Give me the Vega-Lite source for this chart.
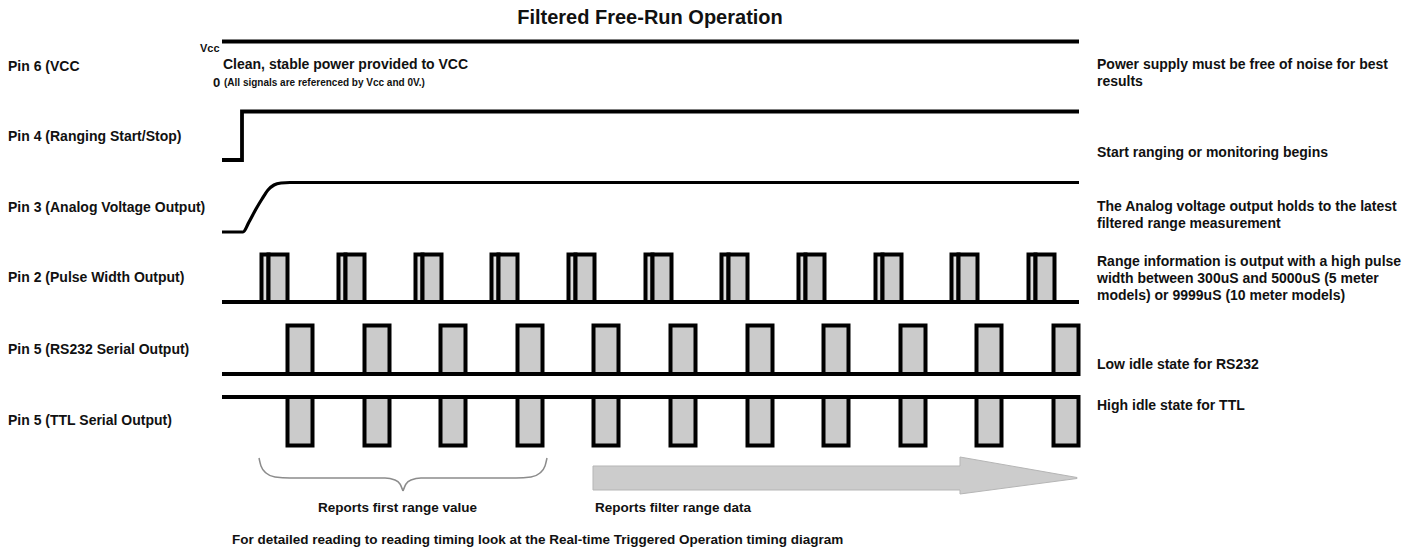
{
  "$schema": "https://vega.github.io/schema/vega-lite/v6.json",
  "width": 1419,
  "height": 550,
  "padding": 0,
  "autosize": {"type": "none"},
  "background": "white",
  "config": {"view": {"stroke": null}, "text": {"font": "Liberation Sans"}},
  "datasets": {
    "waves": [
      {"sig": "vcc", "t": 222, "v": 41.5}, {"sig": "vcc", "t": 1079, "v": 41.5},
      {"sig": "pin4", "t": 222, "v": 160}, {"sig": "pin4", "t": 242, "v": 160}, {"sig": "pin4", "t": 242, "v": 111.5}, {"sig": "pin4", "t": 1079, "v": 111.5},
      {"sig": "pin2", "t": 222, "v": 302}, {"sig": "pin2", "t": 1079, "v": 302},
      {"sig": "rs232", "t": 222, "v": 374}, {"sig": "rs232", "t": 1080, "v": 374},
      {"sig": "ttl", "t": 222, "v": 397}, {"sig": "ttl", "t": 1080, "v": 397}
    ],
    "analog": [
      {"t": 222, "v": 232}, {"t": 243, "v": 232}, {"t": 249, "v": 222}, {"t": 256, "v": 209}, {"t": 262, "v": 199},
      {"t": 268, "v": 190}, {"t": 274, "v": 185}, {"t": 281, "v": 183}, {"t": 290, "v": 182.5}, {"t": 1079, "v": 182.5}
    ],
    "pulses": [
      {"sig": "pin2", "part": "thin", "t0": 261.5, "t1": 268.5, "v0": 302, "v1": 254.5},
      {"sig": "pin2", "part": "wide", "t0": 268.5, "t1": 287.5, "v0": 302, "v1": 254.5},
      {"sig": "pin2", "part": "thin", "t0": 338.5, "t1": 345.5, "v0": 302, "v1": 254.5},
      {"sig": "pin2", "part": "wide", "t0": 345.5, "t1": 364.5, "v0": 302, "v1": 254.5},
      {"sig": "pin2", "part": "thin", "t0": 415.5, "t1": 422.5, "v0": 302, "v1": 254.5},
      {"sig": "pin2", "part": "wide", "t0": 422.5, "t1": 441.5, "v0": 302, "v1": 254.5},
      {"sig": "pin2", "part": "thin", "t0": 491.5, "t1": 498.5, "v0": 302, "v1": 254.5},
      {"sig": "pin2", "part": "wide", "t0": 498.5, "t1": 517.5, "v0": 302, "v1": 254.5},
      {"sig": "pin2", "part": "thin", "t0": 568.5, "t1": 575.5, "v0": 302, "v1": 254.5},
      {"sig": "pin2", "part": "wide", "t0": 575.5, "t1": 594.5, "v0": 302, "v1": 254.5},
      {"sig": "pin2", "part": "thin", "t0": 645.5, "t1": 652.5, "v0": 302, "v1": 254.5},
      {"sig": "pin2", "part": "wide", "t0": 652.5, "t1": 671.5, "v0": 302, "v1": 254.5},
      {"sig": "pin2", "part": "thin", "t0": 721.5, "t1": 728.5, "v0": 302, "v1": 254.5},
      {"sig": "pin2", "part": "wide", "t0": 728.5, "t1": 747.5, "v0": 302, "v1": 254.5},
      {"sig": "pin2", "part": "thin", "t0": 798.5, "t1": 805.5, "v0": 302, "v1": 254.5},
      {"sig": "pin2", "part": "wide", "t0": 805.5, "t1": 824.5, "v0": 302, "v1": 254.5},
      {"sig": "pin2", "part": "thin", "t0": 875.5, "t1": 882.5, "v0": 302, "v1": 254.5},
      {"sig": "pin2", "part": "wide", "t0": 882.5, "t1": 901.5, "v0": 302, "v1": 254.5},
      {"sig": "pin2", "part": "thin", "t0": 951.5, "t1": 958.5, "v0": 302, "v1": 254.5},
      {"sig": "pin2", "part": "wide", "t0": 958.5, "t1": 977.5, "v0": 302, "v1": 254.5},
      {"sig": "pin2", "part": "thin", "t0": 1028.5, "t1": 1035.5, "v0": 302, "v1": 254.5},
      {"sig": "pin2", "part": "wide", "t0": 1035.5, "t1": 1054.5, "v0": 302, "v1": 254.5},
      {"sig": "rs232", "part": "wide", "t0": 287.5, "t1": 312.5, "v0": 374, "v1": 325.5},
      {"sig": "rs232", "part": "wide", "t0": 364.5, "t1": 389.5, "v0": 374, "v1": 325.5},
      {"sig": "rs232", "part": "wide", "t0": 440.5, "t1": 465.5, "v0": 374, "v1": 325.5},
      {"sig": "rs232", "part": "wide", "t0": 517.5, "t1": 542.5, "v0": 374, "v1": 325.5},
      {"sig": "rs232", "part": "wide", "t0": 593.5, "t1": 618.5, "v0": 374, "v1": 325.5},
      {"sig": "rs232", "part": "wide", "t0": 670.5, "t1": 695.5, "v0": 374, "v1": 325.5},
      {"sig": "rs232", "part": "wide", "t0": 747.5, "t1": 772.5, "v0": 374, "v1": 325.5},
      {"sig": "rs232", "part": "wide", "t0": 823.5, "t1": 848.5, "v0": 374, "v1": 325.5},
      {"sig": "rs232", "part": "wide", "t0": 900.5, "t1": 925.5, "v0": 374, "v1": 325.5},
      {"sig": "rs232", "part": "wide", "t0": 976.5, "t1": 1001.5, "v0": 374, "v1": 325.5},
      {"sig": "rs232", "part": "wide", "t0": 1053.5, "t1": 1078.5, "v0": 374, "v1": 325.5},
      {"sig": "ttl", "part": "wide", "t0": 287.5, "t1": 312.5, "v0": 397, "v1": 445.5},
      {"sig": "ttl", "part": "wide", "t0": 364.5, "t1": 389.5, "v0": 397, "v1": 445.5},
      {"sig": "ttl", "part": "wide", "t0": 440.5, "t1": 465.5, "v0": 397, "v1": 445.5},
      {"sig": "ttl", "part": "wide", "t0": 517.5, "t1": 542.5, "v0": 397, "v1": 445.5},
      {"sig": "ttl", "part": "wide", "t0": 593.5, "t1": 618.5, "v0": 397, "v1": 445.5},
      {"sig": "ttl", "part": "wide", "t0": 670.5, "t1": 695.5, "v0": 397, "v1": 445.5},
      {"sig": "ttl", "part": "wide", "t0": 747.5, "t1": 772.5, "v0": 397, "v1": 445.5},
      {"sig": "ttl", "part": "wide", "t0": 823.5, "t1": 848.5, "v0": 397, "v1": 445.5},
      {"sig": "ttl", "part": "wide", "t0": 900.5, "t1": 925.5, "v0": 397, "v1": 445.5},
      {"sig": "ttl", "part": "wide", "t0": 976.5, "t1": 1001.5, "v0": 397, "v1": 445.5},
      {"sig": "ttl", "part": "wide", "t0": 1053.5, "t1": 1078.5, "v0": 397, "v1": 445.5}
    ],
    "arrow": [
      {"t": 593, "lo": 466, "hi": 490},
      {"t": 960, "lo": 466, "hi": 490},
      {"t": 960, "lo": 457, "hi": 494},
      {"t": 1077, "lo": 477.5, "hi": 478.5}
    ],
    "brace": [
      {"half": "L", "t": 259, "v": 458}, {"half": "L", "t": 261, "v": 466}, {"half": "L", "t": 266, "v": 473}, {"half": "L", "t": 275, "v": 477},
      {"half": "L", "t": 290, "v": 478}, {"half": "L", "t": 385, "v": 478}, {"half": "L", "t": 395, "v": 480}, {"half": "L", "t": 400, "v": 484}, {"half": "L", "t": 403, "v": 491},
      {"half": "R", "t": 403, "v": 491}, {"half": "R", "t": 406, "v": 484}, {"half": "R", "t": 411, "v": 480}, {"half": "R", "t": 421, "v": 478},
      {"half": "R", "t": 516, "v": 478}, {"half": "R", "t": 531, "v": 477}, {"half": "R", "t": 540, "v": 473}, {"half": "R", "t": 545, "v": 466}, {"half": "R", "t": 547, "v": 458}
    ],
    "texts": [
      {"k": "title", "t": 650, "v": 18, "s": "Filtered Free-Run Operation"},
      {"k": "main", "t": 8, "v": 67, "s": "Pin 6 (VCC"},
      {"k": "main", "t": 8, "v": 137, "s": "Pin 4 (Ranging Start/Stop)"},
      {"k": "main", "t": 8, "v": 208, "s": "Pin 3 (Analog Voltage Output)"},
      {"k": "main", "t": 8, "v": 278, "s": "Pin 2 (Pulse Width Output)"},
      {"k": "main", "t": 8, "v": 350, "s": "Pin 5 (RS232 Serial Output)"},
      {"k": "main", "t": 8, "v": 421, "s": "Pin 5 (TTL Serial Output)"},
      {"k": "main", "t": 223, "v": 65, "s": "Clean, stable power provided to VCC"},
      {"k": "main", "t": 1097, "v": 65, "s": "Power supply must be free of noise for best"},
      {"k": "main", "t": 1097, "v": 82, "s": "results"},
      {"k": "main", "t": 1097, "v": 153, "s": "Start ranging or monitoring begins"},
      {"k": "main", "t": 1097, "v": 207, "s": "The Analog voltage output holds to the latest"},
      {"k": "main", "t": 1097, "v": 224, "s": "filtered range measurement"},
      {"k": "main", "t": 1097, "v": 262, "s": "Range information is output with a high pulse"},
      {"k": "main", "t": 1097, "v": 279, "s": "width between 300uS and 5000uS (5 meter"},
      {"k": "main", "t": 1097, "v": 296, "s": "models) or 9999uS (10 meter models)"},
      {"k": "main", "t": 1097, "v": 365, "s": "Low idle state for RS232"},
      {"k": "main", "t": 1097, "v": 406, "s": "High idle state for TTL"},
      {"k": "cap", "t": 318, "v": 508, "s": "Reports first range value"},
      {"k": "cap", "t": 595, "v": 508, "s": "Reports filter range data"},
      {"k": "cap", "t": 232, "v": 540, "s": "For detailed reading to reading timing look at the Real-time Triggered Operation timing diagram"},
      {"k": "vcc", "t": 200, "v": 49, "s": "Vcc"},
      {"k": "zero", "t": 213, "v": 83, "s": "0"},
      {"k": "note", "t": 224, "v": 83, "s": "(All signals are referenced by Vcc and 0V.)"}
    ]
  },
  "layer": [
    {
      "data": {"name": "arrow"},
      "mark": {"type": "area", "fill": "#cccccc", "stroke": "#b5b5b5", "strokeWidth": 1, "interpolate": "linear"},
      "encoding": {
        "x": {"field": "t", "type": "quantitative", "scale": {"domain": [0, 1419], "nice": false, "zero": false}, "axis": null},
        "y": {"field": "lo", "type": "quantitative", "scale": {"domain": [0, 550], "nice": false, "zero": false, "reverse": true}, "axis": null},
        "y2": {"field": "hi"},
        "order": {"value": null}
      }
    },
    {
      "data": {"name": "brace"},
      "mark": {"type": "line", "stroke": "#8c8c8c", "strokeWidth": 1.5, "interpolate": "monotone"},
      "encoding": {
        "x": {"field": "t", "type": "quantitative", "scale": {"domain": [0, 1419], "nice": false, "zero": false}, "axis": null},
        "y": {"field": "v", "type": "quantitative", "scale": {"domain": [0, 550], "nice": false, "zero": false, "reverse": true}, "axis": null},
        "detail": {"field": "half"},
        "order": {"value": null}
      }
    },
    {
      "data": {"name": "waves"},
      "mark": {"type": "line", "stroke": "#000000", "strokeWidth": 3.8, "strokeJoin": "miter", "strokeCap": "butt"},
      "encoding": {
        "x": {"field": "t", "type": "quantitative", "scale": {"domain": [0, 1419], "nice": false, "zero": false}, "axis": null},
        "y": {"field": "v", "type": "quantitative", "scale": {"domain": [0, 550], "nice": false, "zero": false, "reverse": true}, "axis": null},
        "detail": {"field": "sig"},
        "order": {"value": null}
      }
    },
    {
      "data": {"name": "analog"},
      "mark": {"type": "line", "stroke": "#000000", "strokeWidth": 3.2, "interpolate": "monotone", "strokeCap": "butt"},
      "encoding": {
        "x": {"field": "t", "type": "quantitative", "scale": {"domain": [0, 1419], "nice": false, "zero": false}, "axis": null},
        "y": {"field": "v", "type": "quantitative", "scale": {"domain": [0, 550], "nice": false, "zero": false, "reverse": true}, "axis": null}
      }
    },
    {
      "data": {"name": "pulses"},
      "mark": {"type": "rect", "stroke": "#000000", "strokeWidth": 4, "strokeJoin": "miter"},
      "encoding": {
        "x": {"field": "t0", "type": "quantitative", "scale": {"domain": [0, 1419], "nice": false, "zero": false}, "axis": null},
        "x2": {"field": "t1"},
        "y": {"field": "v0", "type": "quantitative", "scale": {"domain": [0, 550], "nice": false, "zero": false, "reverse": true}, "axis": null},
        "y2": {"field": "v1"},
        "fill": {"field": "part", "type": "nominal", "scale": {"domain": ["thin", "wide"], "range": ["#dcdcdc", "#cbcbcb"]}, "legend": null}
      }
    },
    {
      "data": {"name": "texts"},
      "transform": [{"filter": "datum.k === 'title'"}],
      "mark": {"type": "text", "fontSize": 20, "fontWeight": "bold", "align": "center", "baseline": "middle", "color": "#111111"},
      "encoding": {
        "x": {"field": "t", "type": "quantitative", "scale": {"domain": [0, 1419], "nice": false, "zero": false}, "axis": null},
        "y": {"field": "v", "type": "quantitative", "scale": {"domain": [0, 550], "nice": false, "zero": false, "reverse": true}, "axis": null},
        "text": {"field": "s"}
      }
    },
    {
      "data": {"name": "texts"},
      "transform": [{"filter": "datum.k === 'main'"}],
      "mark": {"type": "text", "fontSize": 14, "fontWeight": "bold", "align": "left", "baseline": "middle", "color": "#111111"},
      "encoding": {
        "x": {"field": "t", "type": "quantitative", "scale": {"domain": [0, 1419], "nice": false, "zero": false}, "axis": null},
        "y": {"field": "v", "type": "quantitative", "scale": {"domain": [0, 550], "nice": false, "zero": false, "reverse": true}, "axis": null},
        "text": {"field": "s"}
      }
    },
    {
      "data": {"name": "texts"},
      "transform": [{"filter": "datum.k === 'cap'"}],
      "mark": {"type": "text", "fontSize": 13.5, "fontWeight": "bold", "align": "left", "baseline": "middle", "color": "#111111"},
      "encoding": {
        "x": {"field": "t", "type": "quantitative", "scale": {"domain": [0, 1419], "nice": false, "zero": false}, "axis": null},
        "y": {"field": "v", "type": "quantitative", "scale": {"domain": [0, 550], "nice": false, "zero": false, "reverse": true}, "axis": null},
        "text": {"field": "s"}
      }
    },
    {
      "data": {"name": "texts"},
      "transform": [{"filter": "datum.k === 'vcc'"}],
      "mark": {"type": "text", "fontSize": 11, "fontWeight": "bold", "align": "left", "baseline": "middle", "color": "#111111"},
      "encoding": {
        "x": {"field": "t", "type": "quantitative", "scale": {"domain": [0, 1419], "nice": false, "zero": false}, "axis": null},
        "y": {"field": "v", "type": "quantitative", "scale": {"domain": [0, 550], "nice": false, "zero": false, "reverse": true}, "axis": null},
        "text": {"field": "s"}
      }
    },
    {
      "data": {"name": "texts"},
      "transform": [{"filter": "datum.k === 'zero'"}],
      "mark": {"type": "text", "fontSize": 13, "fontWeight": "bold", "align": "left", "baseline": "middle", "color": "#111111"},
      "encoding": {
        "x": {"field": "t", "type": "quantitative", "scale": {"domain": [0, 1419], "nice": false, "zero": false}, "axis": null},
        "y": {"field": "v", "type": "quantitative", "scale": {"domain": [0, 550], "nice": false, "zero": false, "reverse": true}, "axis": null},
        "text": {"field": "s"}
      }
    },
    {
      "data": {"name": "texts"},
      "transform": [{"filter": "datum.k === 'note'"}],
      "mark": {"type": "text", "fontSize": 10, "fontWeight": "bold", "align": "left", "baseline": "middle", "color": "#111111"},
      "encoding": {
        "x": {"field": "t", "type": "quantitative", "scale": {"domain": [0, 1419], "nice": false, "zero": false}, "axis": null},
        "y": {"field": "v", "type": "quantitative", "scale": {"domain": [0, 550], "nice": false, "zero": false, "reverse": true}, "axis": null},
        "text": {"field": "s"}
      }
    }
  ]
}
